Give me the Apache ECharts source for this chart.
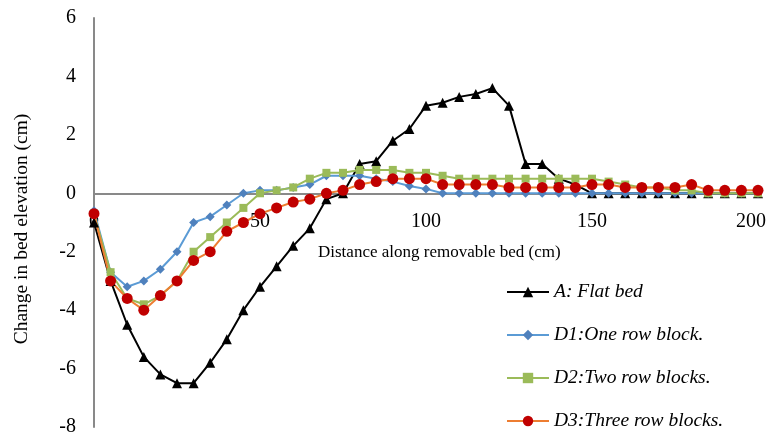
<!DOCTYPE html>
<html>
<head>
<meta charset="utf-8">
<script src="https://cdn.jsdelivr.net/npm/echarts@6/dist/echarts.min.js"></script>
<style>
  html, body { margin: 0; padding: 0; background: #fff; }
  #chart { width: 771px; height: 434px; }
</style>
</head>
<body>
<div id="chart"></div>
<script>
// Distance along the bed (cm), measured every 5 cm
const distance = [0, 5, 10, 15, 20, 25, 30, 35, 40, 45, 50, 55, 60, 65, 70, 75, 80, 85, 90, 95, 100,
  105, 110, 115, 120, 125, 130, 135, 140, 145, 150, 155, 160, 165, 170, 175, 180, 185, 190, 195, 200];

// Change in bed elevation (cm) for each configuration
const flatBed = [-1.0, -3.0, -4.5, -5.6, -6.2, -6.5, -6.5, -5.8, -5.0, -4.0, -3.2, -2.5, -1.8, -1.2, -0.2, 0.0,
  1.0, 1.1, 1.8, 2.2, 3.0, 3.1, 3.3, 3.4, 3.6, 3.0, 1.0, 1.0, 0.5, 0.3, 0.0,
  0.0, 0.0, 0.0, 0.0, 0.0, 0.0, 0.0, 0.0, 0.0, 0.0];
const oneRow = [-0.6, -2.7, -3.2, -3.0, -2.6, -2.0, -1.0, -0.8, -0.4, 0.0, 0.1, 0.1, 0.2, 0.3, 0.6, 0.6,
  0.6, 0.5, 0.4, 0.25, 0.15, 0.0, 0.0, 0.0, 0.0, 0.0, 0.0, 0.0, 0.0, 0.0, 0.0,
  0.0, 0.0, 0.0, 0.0, 0.0, 0.0, 0.0, 0.0, 0.0, 0.0];
const twoRows = [-0.7, -2.7, -3.6, -3.8, -3.5, -3.0, -2.0, -1.5, -1.0, -0.5, 0.0, 0.1, 0.2, 0.5, 0.7, 0.7,
  0.8, 0.8, 0.8, 0.7, 0.7, 0.6, 0.5, 0.5, 0.5, 0.5, 0.5, 0.5, 0.5, 0.5, 0.5,
  0.4, 0.3, 0.2, 0.2, 0.1, 0.1, 0.0, 0.0, 0.0, 0.0];
const threeRows = [-0.7, -3.0, -3.6, -4.0, -3.5, -3.0, -2.3, -2.0, -1.3, -1.0, -0.7, -0.5, -0.3, -0.2, 0.0, 0.1,
  0.3, 0.4, 0.5, 0.5, 0.5, 0.3, 0.3, 0.3, 0.3, 0.2, 0.2, 0.2, 0.2, 0.2, 0.3,
  0.3, 0.2, 0.2, 0.2, 0.2, 0.3, 0.1, 0.1, 0.1, 0.1];

const seriesNames = ['A: Flat bed', 'D1:One row block.', 'D2:Two row blocks.', 'D3:Three row blocks.'];
const xTicks = { min: 0, max: 200, interval: 50 };
const yTicks = { min: -8, max: 6, interval: 2 };

const pairs = (ys) => distance.map((d, i) => [d, ys[i]]);
const serif = '"Liberation Serif", "Times New Roman", serif';
const axisGrey = '#898989';

// Plot box
const gridBox = { left: 94, right: 13, top: 18, bottom: 7 };
const plotHeight = 434 - gridBox.top - gridBox.bottom;
// distance from the bottom edge of the plot up to the y = 0 line
const zeroRise = plotHeight * (0 - yTicks.min) / (yTicks.max - yTicks.min);

function lineSeries(name, ys, lineColor, markColor, symbol, size) {
  return {
    name: name,
    type: 'line',
    data: pairs(ys),
    symbol: symbol,
    symbolSize: size,
    showAllSymbol: true,
    lineStyle: { color: lineColor, width: 2 },
    itemStyle: { color: markColor, borderWidth: 0 },
    emphasis: { disabled: true },
    animation: false
  };
}

const chart = echarts.init(document.getElementById('chart'), null, { renderer: 'canvas' });
chart.setOption({
  backgroundColor: '#ffffff',
  animation: false,
  grid: Object.assign({ outerBoundsMode: 'none', containLabel: false }, gridBox),
  xAxis: [{
    // axis line drawn through y = 0
    type: 'value',
    min: xTicks.min, max: xTicks.max, interval: xTicks.interval,
    axisLine: { onZero: true, lineStyle: { color: axisGrey, width: 2 } },
    axisTick: { show: false },
    splitLine: { show: false },
    axisLabel: { show: false }
  }, {
    // tick labels sitting just under the y = 0 line
    type: 'value',
    position: 'bottom',
    offset: -zeroRise,
    min: xTicks.min, max: xTicks.max, interval: xTicks.interval,
    axisLine: { show: false },
    axisTick: { show: false },
    splitLine: { show: false },
    axisLabel: {
      color: '#000', fontFamily: serif, fontSize: 20, margin: 18,
      // keep the last label inside the canvas
      formatter: (v) => v === xTicks.max ? '{edge|' + v + '}' : String(v),
      rich: { edge: { fontFamily: serif, fontSize: 20, color: '#000', padding: [0, 14, 0, 0] } }
    }
  }],
  yAxis: {
    type: 'value',
    min: yTicks.min, max: yTicks.max, interval: yTicks.interval,
    axisLine: { show: true, lineStyle: { color: axisGrey, width: 2 } },
    axisTick: { show: false },
    splitLine: { show: false },
    axisLabel: { color: '#000', fontFamily: serif, fontSize: 20, margin: 18 }
  },
  legend: {
    orient: 'vertical',
    left: 506,
    top: 282,
    padding: 0,
    itemWidth: 42,
    itemHeight: 13,
    itemGap: 23,
    data: seriesNames,
    textStyle: { color: '#000', fontFamily: serif, fontSize: 19.5, fontStyle: 'italic' }
  },
  graphic: [{
    type: 'text',
    left: 318,
    top: 244,
    style: {
      text: 'Distance along removable bed (cm)',
      fill: '#000',
      font: '17px ' + serif
    }
  }, {
    type: 'text',
    x: 22,
    y: 229,
    rotation: Math.PI / 2,
    style: {
      text: 'Change in bed elevation (cm)',
      fill: '#000',
      font: '19.5px ' + serif,
      align: 'center',
      verticalAlign: 'middle'
    }
  }],
  series: [
    lineSeries(seriesNames[0], flatBed, '#000000', '#000000', 'triangle', 10),
    lineSeries(seriesNames[1], oneRow, '#5B9BD5', '#4F81BD', 'diamond', 9),
    lineSeries(seriesNames[2], twoRows, '#9BBB59', '#9BBB59', 'rect', 8),
    lineSeries(seriesNames[3], threeRows, '#ED7D31', '#C00000', 'circle', 11)
  ]
});
</script>
</body>
</html>
